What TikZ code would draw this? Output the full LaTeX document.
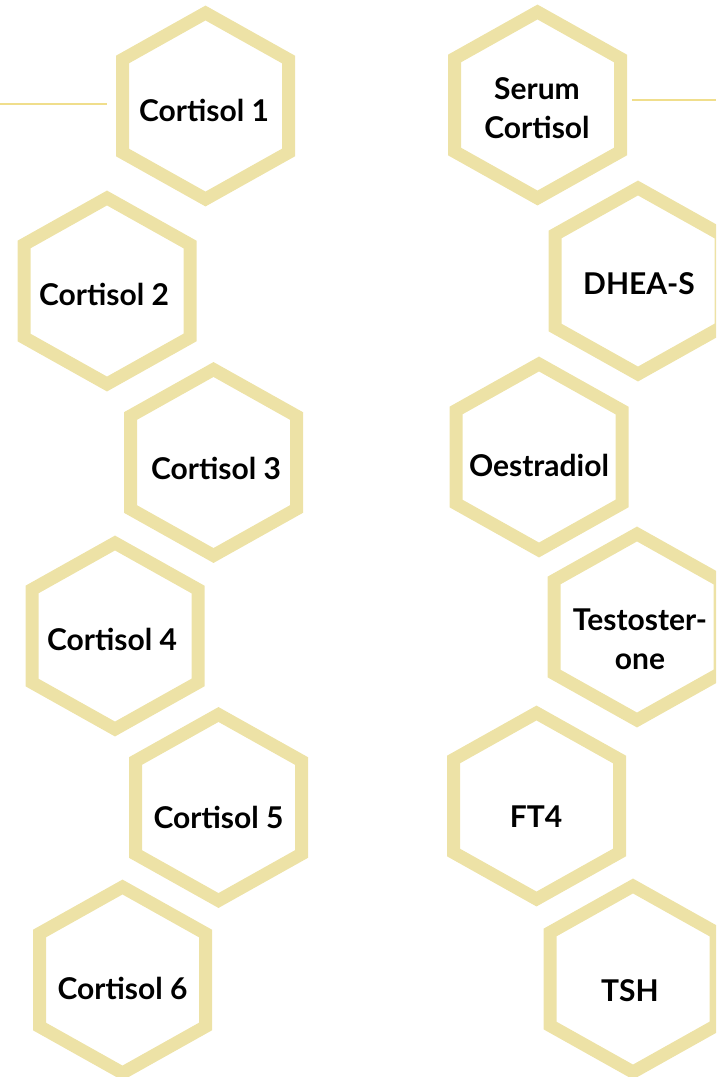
\documentclass[tikz,border=0pt]{standalone}
\usepackage{fontspec}
\setmainfont{Lato}
\usetikzlibrary{calc}
\definecolor{hexgold}{RGB}{237,226,166}
\definecolor{linkgold}{RGB}{240,222,140}
\tikzstyle{hexagon} = [draw=hexgold, line width=13pt, line join=miter]
\tikzstyle{marker} = [font=\fontsize{30}{39.5}\selectfont\bfseries, text=black, align=center, inner sep=0pt]
\tikzstyle{link} = [draw=linkgold, line width=2pt]
\newcommand{\hexcell}[1]{\draw[hexagon] ($(#1)+(0,-93)$) -- ($(#1)+(83,-46.5)$) -- ($(#1)+(83,46.5)$) -- ($(#1)+(0,93)$) -- ($(#1)+(-83,46.5)$) -- ($(#1)+(-83,-46.5)$) -- cycle;}

\begin{document}
\begin{tikzpicture}[x=1pt,y=-1pt]
	\clip (0,0) rectangle (716,1077);
	\hexcell{205.5,106}
	\hexcell{107,291}
	\hexcell{213.5,462.5}
	\hexcell{115,636}
	\hexcell{218.5,807.5}
	\hexcell{122.5,980}
	\hexcell{537.5,105}
	\hexcell{638,281}
	\hexcell{539,457}
	\hexcell{637,627}
	\hexcell{536.5,806}
	\hexcell{633,979}

	\node (c1) at (204,110) [marker] {Cortisol 1};
	\node (c2) at (104,294) [marker] {Cortisol 2};
	\node (c3) at (216,468) [marker] {Cortisol 3};
	\node (c4) at (112,639) [marker] {Cortisol 4};
	\node (c5) at (218.5,817) [marker] {Cortisol 5};
	\node (c6) at (122.5,988) [marker] {Cortisol 6};
	\node (s1) at (537,108) [marker] {Serum\\Cortisol};
	\node (s2) at (639,284) [marker] {DHEA-S};
	\node (s3) at (539,465) [marker] {Oestradiol};
	\node (s4) at (640,639.5) [marker] {Testoster-\\one};
	\node (s5) at (536,817) [marker] {FT4};
	\node (s6) at (630,991) [marker] {TSH};

	\coordinate (l0) at (0,104);
	\coordinate (l1) at (107,104);
	\coordinate (r0) at (632,100);
	\coordinate (r1) at (716,100);
	\draw[link] (l0) -- (l1);
	\draw[link] (r0) -- (r1);
\end{tikzpicture}
\end{document}
